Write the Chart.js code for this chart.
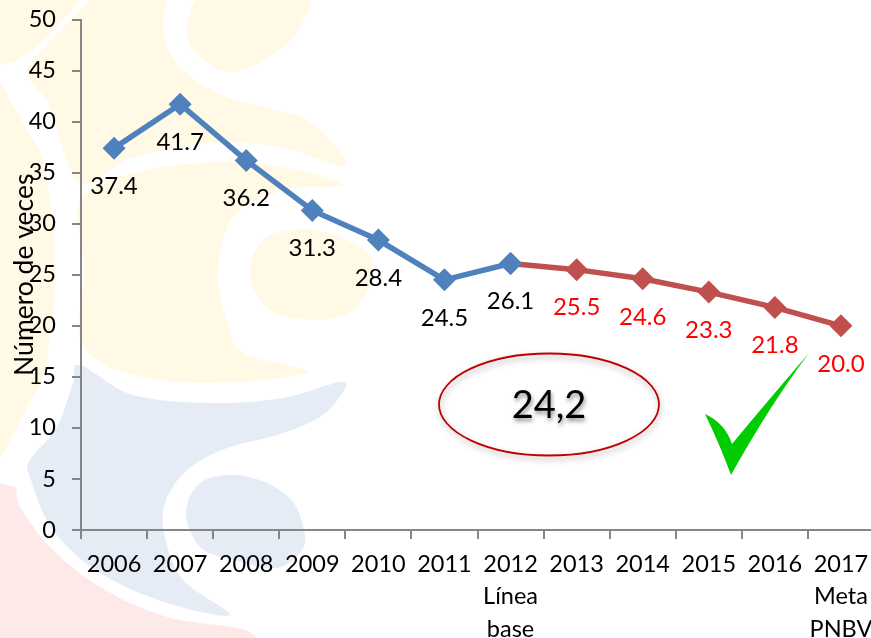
<!DOCTYPE html>
<html><head><meta charset="utf-8">
<script src="https://cdn.jsdelivr.net/npm/chart.js@4"></script>
<style>html,body{margin:0;padding:0;background:#fff;width:871px;height:638px;overflow:hidden}canvas{display:block}</style>
</head><body><canvas id="c" width="900" height="638"></canvas>
<script>
const categories = [["2006"],["2007"],["2008"],["2009"],["2010"],["2011"],["2012","Línea","base"],["2013"],["2014"],["2015"],["2016"],["2017","Meta","PNBV"]];
const observed = [37.4,41.7,36.2,31.3,28.4,24.5,26.1,null,null,null,null,null];
const projected = [null,null,null,null,null,null,26.1,25.5,24.6,23.3,21.8,20.0];
const yTitle = "Número de veces";
const calloutText = "24,2";
const FONT = "Lato, Carlito, sans-serif";

const cream = "#FFF9E6", blueTint = "#E6ECF5", pinkTint = "#FCE9E8";
const shapes = [
 [cream,[[-40,-40],[95,-40],[80,0],[13,62],[-40,42]]],
 [cream,[[168,-30],[163,27],[180,67],[227,97],[300,117],[335,145],[343,166],[283,148],[217,143],[133,157],[80,183],[50,107],[30,80],[33,60],[90,0],[110,-30]]],
 [cream,[[187,33],[200,-5],[250,-30],[305,-5],[305,17],[280,50],[233,72],[200,57]]],
 [cream,[[80,200],[133,173],[217,162],[283,167],[343,185],[283,190],[233,217],[218,273],[227,320],[243,353],[308,372],[217,383],[133,375],[82,343],[84,270]]],
 [cream,[[-40,70],[33,140],[50,200],[55,267],[50,337],[33,397],[-40,480]]],
 [cream,[[250,273],[267,237],[317,230],[367,253],[370,283],[353,310],[317,320],[270,310]]],
 [blueTint,[[80,365],[133,395],[213,403],[283,398],[340,382],[343,392],[320,417],[277,435],[227,448],[187,470],[165,503],[165,537],[183,580],[230,615],[167,603],[100,573],[53,530],[30,477],[30,460],[57,427],[73,383]]],
 [blueTint,[[186,513],[200,483],[233,475],[267,483],[293,502],[304,530],[302,550],[277,568],[233,560],[200,547]]],
 [pinkTint,[[-30,505],[12,486],[20,507],[50,547],[100,587],[167,617],[250,632],[240,660],[100,700],[-30,700]]]
];
function smooth(ctx,p){
  ctx.beginPath();
  const n=p.length;
  ctx.moveTo(p[0][0],p[0][1]);
  for(let i=0;i<n;i++){
    const a=p[(i-1+n)%n],b=p[i],c=p[(i+1)%n],d=p[(i+2)%n];
    ctx.bezierCurveTo(b[0]+(c[0]-a[0])/6,b[1]+(c[1]-a[1])/6,c[0]-(d[0]-b[0])/6,c[1]-(d[1]-b[1])/6,c[0],c[1]);
  }
  ctx.closePath();
}
const backdrop = {id:"backdrop",beforeDraw(chart){
  const ctx=chart.ctx;ctx.save();
  ctx.fillStyle="#fff";ctx.fillRect(0,0,chart.width,chart.height);
  for(const [col,pts] of shapes){ctx.fillStyle=col;smooth(ctx,pts);ctx.fill();}
  ctx.restore();
}};
const valueLabels = {id:"valueLabels",afterDatasetsDraw(chart){
  const ctx=chart.ctx,x=chart.scales.x,y=chart.scales.y;
  ctx.save();ctx.font="24px "+FONT;ctx.textAlign="center";ctx.textBaseline="middle";
  const put=(arr,col,from)=>arr.forEach((v,i)=>{
    if(v===null||i<from)return;
    ctx.fillStyle=col;ctx.fillText(v.toFixed(1),x.getPixelForValue(i),y.getPixelForValue(v)+38);
  });
  put(observed,"#000",0);put(projected,"#FF0000",7);
  ctx.restore();
}};
const callouts = {id:"callouts",afterDraw(chart){
  const ctx=chart.ctx;ctx.save();
  ctx.save();
  ctx.shadowColor="rgba(0,0,0,0.35)";ctx.shadowBlur=6;ctx.shadowOffsetX=1;ctx.shadowOffsetY=3;
  ctx.strokeStyle="#C00000";ctx.lineWidth=1.8;
  ctx.beginPath();ctx.ellipse(549,404.5,110,51,0,0,Math.PI*2);ctx.stroke();
  ctx.restore();
  ctx.save();
  ctx.shadowColor="rgba(0,0,0,0.45)";ctx.shadowBlur=4;ctx.shadowOffsetX=1;ctx.shadowOffsetY=3;
  ctx.fillStyle="#000";ctx.font="38px "+FONT;ctx.textAlign="center";ctx.textBaseline="middle";
  ctx.fillText(calloutText,549,406);
  ctx.restore();
  ctx.fillStyle="#00CC00";ctx.beginPath();
  ctx.moveTo(809,353);
  ctx.quadraticCurveTo(760,410,732,444);
  ctx.quadraticCurveTo(725,423,705,414);
  ctx.quadraticCurveTo(720,445,731,475);
  ctx.quadraticCurveTo(770,405,809,353);
  ctx.closePath();ctx.fill();
  ctx.restore();
}};
const axisGray="#868686";
new Chart(document.getElementById("c"),{
  type:"line",
  data:{labels:categories,datasets:[
    {data:observed,borderColor:"#4F81BD",backgroundColor:"#4F81BD",borderWidth:5.5,pointStyle:"rectRot",pointRadius:11.5,pointHoverRadius:11.5,pointBorderWidth:0,tension:0,spanGaps:false},
    {data:projected,borderColor:"#C0504D",backgroundColor:"#C0504D",borderWidth:5.5,pointStyle:"rectRot",pointRadius:11.5,pointHoverRadius:11.5,pointBorderWidth:0,tension:0,spanGaps:false}
  ]},
  plugins:[backdrop,valueLabels,callouts],
  options:{
    responsive:false,animation:false,
    layout:{padding:{top:19.5,right:26,left:0,bottom:0}},
    plugins:{legend:{display:false},tooltip:{enabled:false},title:{display:false}},
    scales:{
      x:{offset:true,afterFit(s){s.height=108;},
        grid:{offset:true,drawOnChartArea:false,color:axisGray,lineWidth:2,tickLength:9,tickColor:axisGray},
        border:{color:axisGray,width:2},
        ticks:{color:"#000",font:{family:FONT,size:23.5,lineHeight:1.38},maxRotation:0,minRotation:0,autoSkip:false,padding:9}},
      y:{min:0,max:50,afterFit(s){s.width=81;s.paddingTop=0;s.paddingBottom=0;},
        grid:{drawOnChartArea:false,color:axisGray,lineWidth:2,tickLength:9,tickColor:axisGray},
        border:{color:axisGray,width:2},
        ticks:{color:"#000",font:{family:FONT,size:23.5},stepSize:5,padding:16},
        title:{display:true,text:yTitle,color:"#000",font:{family:FONT,size:26.5},padding:{top:9,bottom:0}}}
    }
  }
});
</script></body></html>
